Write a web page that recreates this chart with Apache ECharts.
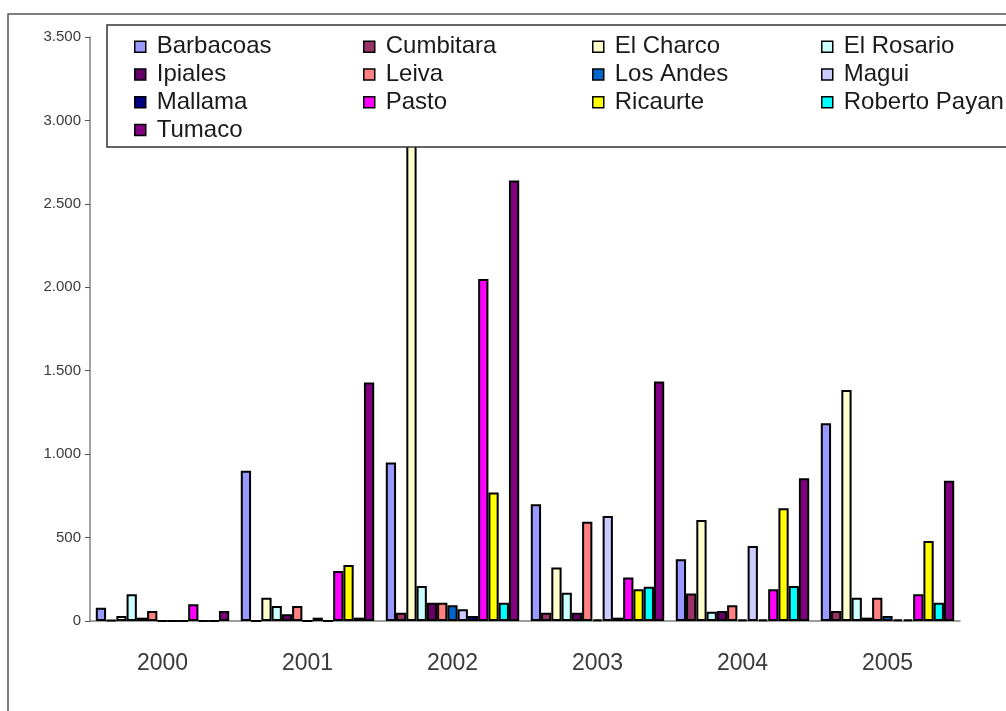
<!DOCTYPE html>
<html>
<head>
<meta charset="utf-8">
<script src="https://cdn.jsdelivr.net/npm/echarts@6/dist/echarts.min.js"></script>
<style>
  html, body { margin: 0; padding: 0; background: #fff; }
  #chart { width: 1006px; height: 711px; }
</style>
</head>
<body>
<div id="chart"></div>
<script>
const years = ["2000", "2001", "2002", "2003", "2004", "2005"];
const yTicks = [0, 500, 1000, 1500, 2000, 2500, 3000, 3500];

const names = [
  "Barbacoas", "Cumbitara", "El Charco", "El Rosario",
  "Ipiales", "Leiva", "Los Andes", "Magui",
  "Mallama", "Pasto", "Ricaurte", "Roberto Payan",
  "Tumaco"
];
const colors = [
  "#9999ff", "#993366", "#ffffcc", "#ccffff",
  "#660066", "#ff8080", "#0066cc", "#ccccff",
  "#000080", "#ff00ff", "#ffff00", "#00ffff",
  "#800080"
];

// values per municipality, 2000..2005
const barbacoas    = [80, 900, 950, 700, 370, 1185];
const cumbitara    = [5, 0, 50, 50, 165, 60];
const elCharco     = [30, 140, 3200, 320, 605, 1385];
const elRosario    = [160, 90, 210, 170, 55, 140];
const ipiales      = [20, 40, 110, 50, 60, 20];
const leiva        = [60, 90, 110, 595, 95, 140];
const losAndes     = [0, 0, 95, 10, 10, 30];
const magui        = [0, 20, 70, 630, 450, 10];
const mallama      = [0, 0, 30, 20, 10, 10];
const pasto        = [100, 300, 2050, 260, 190, 160];
const ricaurte     = [0, 335, 770, 190, 675, 480];
const robertoPayan = [0, 20, 110, 205, 210, 110];
const tumaco       = [60, 1430, 2640, 1435, 855, 840];

const values = [
  barbacoas, cumbitara, elCharco, elRosario, ipiales, leiva, losAndes,
  magui, mallama, pasto, ricaurte, robertoPayan, tumaco
];

const chart = echarts.init(document.getElementById("chart"));

const font = "'Liberation Sans', Arial, sans-serif";

// legend laid out in 4 columns, read row by row
const columns = [0, 1, 2, 3].map((c) => names.filter((_, i) => i % 4 === c));
const colX = [134, 363, 592, 821];

const legends = columns.map((col, c) => ({
  orient: "vertical",
  left: colX[c],
  top: 33,
  z: 10,
  padding: 0,
  itemGap: 0,
  itemWidth: 11,
  itemHeight: 11,
  icon: "rect",
  selectedMode: false,
  data: col,
  itemStyle: { borderColor: "#000", borderWidth: 1.5 },
  textStyle: {
    fontFamily: font,
    fontSize: 24,
    lineHeight: 27.7,
    color: "#1a1a1a",
    padding: [0, 0, 0, 6]
  }
}));

chart.setOption({
  animation: false,
  backgroundColor: "#fff",
  color: colors,
  graphic: [
    {
      type: "rect",
      z: 0,
      shape: { x: 8, y: 14, width: 1100, height: 800 },
      style: { fill: "none", stroke: "#555", lineWidth: 1.5 }
    },
    {
      type: "rect",
      z: 9,
      shape: { x: 107, y: 25, width: 1000, height: 122 },
      style: { fill: "#fff", stroke: "#333", lineWidth: 1.5 }
    }
  ],
  legend: legends,
  grid: { left: 90, right: 46, top: 37, bottom: 90 },
  xAxis: {
    type: "category",
    data: years,
    axisLine: { lineStyle: { color: "#808080", width: 1.5 } },
    axisTick: { length: 6, lineStyle: { color: "#555" } },
    axisLabel: {
      margin: 31,
      fontFamily: font,
      fontSize: 23,
      color: "#3a3a3a"
    }
  },
  yAxis: {
    type: "value",
    min: yTicks[0],
    max: yTicks[yTicks.length - 1],
    interval: 500,
    splitLine: { show: false },
    axisLine: { show: true, lineStyle: { color: "#808080", width: 1.5 } },
    axisTick: { show: true, length: 5, lineStyle: { color: "#555" } },
    axisLabel: {
      margin: 9,
      fontFamily: font,
      fontSize: 15,
      color: "#3a3a3a",
      formatter: (v) => String(v).replace(/\B(?=(\d{3})+(?!\d))/g, ".")
    }
  },
  series: names.map((name, i) => ({
    name,
    type: "bar",
    data: values[i],
    barGap: "0%",
    barCategoryGap: "8%",
    itemStyle: { color: colors[i], borderColor: "#000", borderWidth: 2 }
  }))
});
</script>
</body>
</html>
